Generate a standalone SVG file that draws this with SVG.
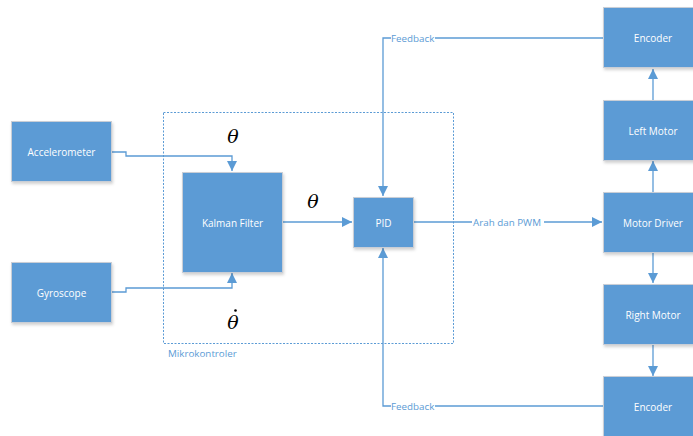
<svg xmlns="http://www.w3.org/2000/svg" width="693" height="436" viewBox="0 0 693 436">
<defs>
<marker id="ah" viewBox="0 0 10 10" refX="10" refY="5" markerWidth="10" markerHeight="10" markerUnits="userSpaceOnUse" orient="auto">
<path d="M0,0 L10,5 L0,10 Z" fill="#5B9BD5"/>
</marker>
<filter id="sh" x="-10%" y="-10%" width="130%" height="130%">
<feDropShadow dx="1" dy="2" stdDeviation="1.5" flood-color="#000" flood-opacity="0.18"/>
</filter>
</defs>
<style>
.box{fill:#5B9BD5;stroke:#C9CED6;stroke-width:1;filter:url(#sh)}
.t{fill:#fff;font-family:"Open Sans","Noto Sans",sans-serif;font-size:10px;text-anchor:middle;dominant-baseline:central}
.c{fill:none;stroke:#5B9BD5;stroke-width:1.3}
.lbl{fill:#5B9BD5;font-family:"Open Sans","Noto Sans",sans-serif;font-size:9.8px;dominant-baseline:central}
.m{font-family:"DejaVu Serif","Liberation Serif",serif;font-style:italic;font-size:19px;fill:#000;text-anchor:middle}
</style>
<rect width="693" height="436" fill="#fff"/>
<g id="mikrokontroler">
<rect x="163.5" y="112.5" width="290" height="231" fill="none" stroke="#5B9BD5" stroke-width="1" stroke-dasharray="2,1.5"/>
<text class="lbl" x="168" y="353">Mikrokontroler</text>
</g>
<g id="connectors">
<polyline class="c" points="111,152 126,152 126,156 232,156 232,171" marker-end="url(#ah)"/>
<polyline class="c" points="111,292 126,292 126,288 232,288 232,273" marker-end="url(#ah)"/>
<line class="c" x1="283" y1="222" x2="352" y2="222" marker-end="url(#ah)"/>
<line class="c" x1="413" y1="222" x2="472" y2="222"/>
<line class="c" x1="544" y1="222" x2="602" y2="222" marker-end="url(#ah)"/>
<text class="lbl" x="473" y="222">Arah dan PWM</text>
<polyline class="c" points="603,38 435,38"/>
<polyline class="c" points="391,38 383,38 383,196" marker-end="url(#ah)"/>
<text class="lbl" x="391" y="38">Feedback</text>
<polyline class="c" points="603,406 435,406"/>
<polyline class="c" points="391,406 383,406 383,248" marker-end="url(#ah)"/>
<text class="lbl" x="391" y="406">Feedback</text>
<line class="c" x1="653" y1="192" x2="653" y2="161" marker-end="url(#ah)"/>
<line class="c" x1="653" y1="100" x2="653" y2="69" marker-end="url(#ah)"/>
<line class="c" x1="653" y1="252" x2="653" y2="283" marker-end="url(#ah)"/>
<line class="c" x1="653" y1="344" x2="653" y2="376" marker-end="url(#ah)"/>
</g>
<g id="accelerometer"><rect class="box" x="11.5" y="121.5" width="100" height="60"/><text class="t" x="61.5" y="151.5">Accelerometer</text></g>
<g id="gyroscope"><rect class="box" x="11.5" y="262.5" width="100" height="60"/><text class="t" x="61.5" y="292.5">Gyroscope</text></g>
<g id="kalman"><rect class="box" x="182.5" y="172.5" width="100" height="100"/><text class="t" x="232.5" y="222.5">Kalman Filter</text></g>
<g id="pid"><rect class="box" x="353.5" y="197.5" width="60" height="50"/><text class="t" x="383.5" y="222.5">PID</text></g>
<g id="encoder-top"><rect class="box" x="603.5" y="7.5" width="100" height="60"/><text class="t" x="653" y="37.5">Encoder</text></g>
<g id="left-motor"><rect class="box" x="603.5" y="100.5" width="100" height="60"/><text class="t" x="653" y="130.5">Left Motor</text></g>
<g id="motor-driver"><rect class="box" x="603.5" y="192.5" width="100" height="60"/><text class="t" x="653" y="222.5">Motor Driver</text></g>
<g id="right-motor"><rect class="box" x="603.5" y="284.5" width="100" height="60"/><text class="t" x="653" y="314.5">Right Motor</text></g>
<g id="encoder-bottom"><rect class="box" x="603.5" y="376.5" width="100" height="60"/><text class="t" x="653" y="406.5">Encoder</text></g>
<g id="symbols">
<text class="m" x="233" y="143">θ</text>
<text class="m" x="313" y="208">θ</text>
<text class="m" x="233" y="329">θ</text>
<circle cx="235.5" cy="310.5" r="1.3" fill="#000"/>
</g>
</svg>
